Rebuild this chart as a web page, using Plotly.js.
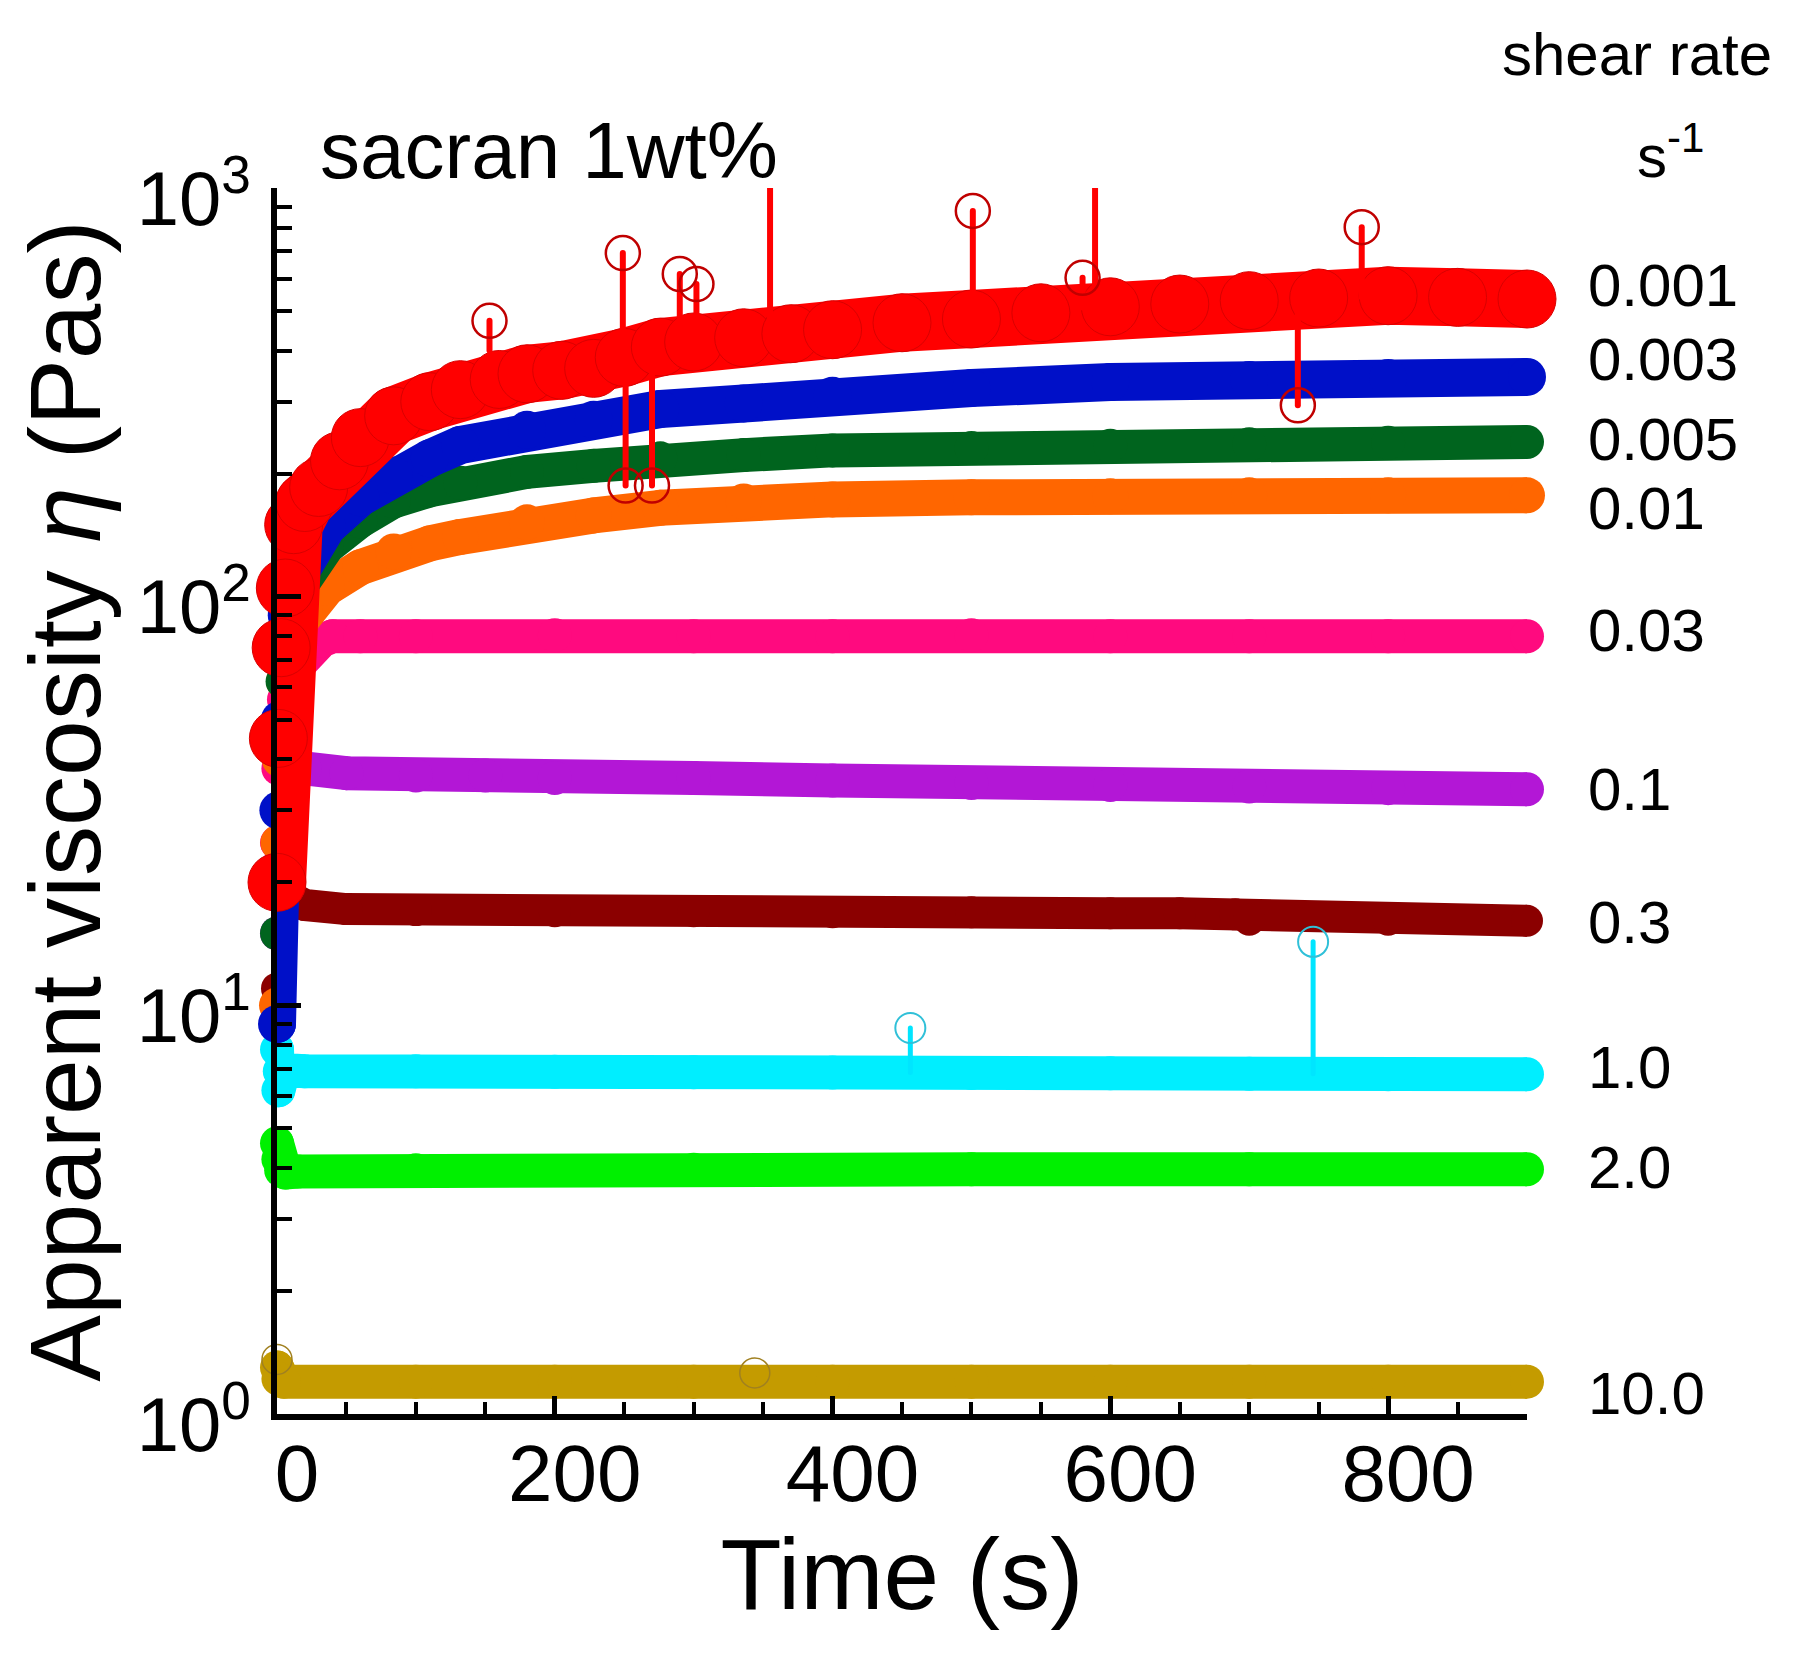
<!DOCTYPE html>
<html><head><meta charset="utf-8">
<script src="https://cdn.plot.ly/plotly-3.0.1.min.js"></script>
<style>html,body{margin:0;padding:0;background:#fff}</style>
</head><body><div id="chart" style="width:1809px;height:1664px"></div>
<script>
// ---- data (time in s, viscosity in Pa·s) ----
const rateLabels = ['0.001','0.003','0.005','0.01','0.03','0.1','0.3','1.0','2.0','10.0'];
const seriesColors = ['#ff0000','#0010c8','#00641e','#ff6600','#ff0a7f','#b317d6','#8b0000','#00eeff','#00f000','#c49b00'];

const t0001 = [0,1,3,6,12,20,30,45,60,84,110,132,160,180,205,228,250,276,300,336,370,400,450,500,550,600,650,700,750,800,850,900];
const v0001 = [20,45,75,105,150,170,185,215,245,277,300,321,340,351,358,362,385,408,420,430,440,450,468,478,495,512,520,530,538,545,540,535];

const t0003 = [0,1,2,4,7,12,20,36,60,84,110,132,180,228,276,336,400,500,600,700,800,900];
const v0003 = [9,30,50,70,90,108,125,148,175,198,218,235,256,271,288,297,310,324,335,339,343,345];

const t0005 = [0,1,2,4,7,12,20,36,60,84,110,132,180,228,276,336,400,500,600,700,800,900];
const v0005 = [15,30,45,62,82,100,113,132,153,171,182,190,202,209,218,222,228,231,234,236,238,239];

const t001 = [0,1,2,5,8,12,20,36,60,84,110,132,180,228,276,336,400,500,600,700,800,900];
const v001 = [10,25,40,62,73,83,92,105,118,129,135,140,152,158,165,171,173,175,176,177,177,177];

const t003 = [0,1,3,5,8,12,18,25,32,40,60,100,200,300,400,500,600,700,800,900];
const v003 = [25,38,50,56,61,66,71,75,78,80,80,80,80.5,80,80,80.5,80,80,80,80];

const t01 = [0,1,2,3,5,10,20,50,100,150,200,300,400,500,600,700,800,900];
const v01 = [15,22,30,38,40,39,38,37,36.5,36.5,36,36,35.5,35,34.6,34.3,34,33.8];

const t03 = [0,1,2,4,8,20,50,100,200,300,400,500,600,650,690,700,800,900];
const v03 = [11,15,19,19,18.5,17.6,17.2,17.1,17,17,16.9,16.9,16.8,16.8,16.7,16.2,16.2,16.1];

const t1 = [0,1,2,5,20,100,200,300,400,500,600,700,800,900];
const v1 = [7.8,6.2,6.9,6.95,6.9,6.9,6.88,6.86,6.85,6.83,6.82,6.8,6.78,6.78];

const t2 = [0,1,3,6,15,100,300,500,700,900];
const v2 = [4.6,4.2,3.95,3.9,3.92,3.95,3.96,3.97,3.97,3.97];

const t10 = [0,1,5,100,200,300,400,500,600,700,800,900];
const v10 = [1.3,1.22,1.2,1.2,1.2,1.2,1.2,1.2,1.2,1.2,1.2,1.2];

// spikes (time, band value, spike value)
const redSpikeT    = [153,249,251,270,290,302,355,501,580,589,735,781];
const redSpikeBase = [400,440,440,410,410,415,430,480,510,510,535,540];
const redSpikePeak = [473,693,187,187,616,582,1500,879,603,1500,294,802];
const cyanSpikeT    = [456,746];
const cyanSpikeBase = [6.85,6.8];
const cyanSpikePeak = [8.8,14.3];
const goldOutT = [0,344];
const goldOutV = [1.36,1.26];

const yTickVals = [1,10,100,1000];
const yTickText = ['10<sup>0</sup>','10<sup>1</sup>','10<sup>2</sup>','10<sup>3</sup>'];

// ---- build traces ----
const allT = [t0001,t0003,t0005,t001,t003,t01,t03,t1,t2,t10];
const allV = [v0001,v0003,v0005,v001,v003,v01,v03,v1,v2,v10];
const bandW = [58,38,34,36,34,34,32,34,34,34];

const traces = [];
for (let i = allT.length - 1; i >= 0; i--) {
  traces.push({
    x: allT[i], y: allV[i], type: 'scatter', mode: 'lines+markers',
    name: rateLabels[i], cliponaxis: false, hoverinfo: 'skip',
    line: {color: seriesColors[i], width: bandW[i]},
    marker: {color: seriesColors[i], size: bandW[i], symbol: 'circle',
             line: {color: i === 0 ? '#d80000' : seriesColors[i], width: i === 0 ? 1 : 0}}
  });
}
function spikeLines(ts, base, peak, color, w) {
  const x = [], y = [];
  ts.forEach((t, k) => { x.push(t, t, null); y.push(base[k], peak[k], null); });
  return {x, y, type: 'scatter', mode: 'lines', line: {color, width: w}, hoverinfo: 'skip', cliponaxis: true};
}
traces.push(spikeLines(redSpikeT, redSpikeBase, redSpikePeak, '#ff0000', 6));
traces.push({x: redSpikeT, y: redSpikePeak, type: 'scatter', mode: 'markers', cliponaxis: true, hoverinfo: 'skip',
  marker: {symbol: 'circle-open', size: 34, color: '#c00000', line: {width: 2.5}}});
traces.push(spikeLines(cyanSpikeT, cyanSpikeBase, cyanSpikePeak, '#00e5ff', 5));
traces.push({x: cyanSpikeT, y: cyanSpikePeak, type: 'scatter', mode: 'markers', cliponaxis: true, hoverinfo: 'skip',
  marker: {symbol: 'circle-open', size: 30, color: '#30c0d8', line: {width: 2}}});
traces.push({x: goldOutT, y: goldOutV, type: 'scatter', mode: 'markers', cliponaxis: false, hoverinfo: 'skip',
  marker: {symbol: 'circle-open', size: 30, color: '#a08020', line: {width: 1.5}}});

// ---- layout ----
const L = 277, R = 1527, T = 188, B = 1414;
const px = x => (x - L) / (R - L);
const py = y => (B - y) / (B - T);
const labelPix = [285,359,439,508,630,789,922,1067,1167,1393];
const minorY = [];
[1,10,100].forEach(d => { for (let m = 2; m <= 9; m++) minorY.push(m*d); });

const annotations = rateLabels.map((s, i) => ({
  text: s, xref: 'paper', yref: 'paper', x: px(1586), y: py(labelPix[i]),
  xanchor: 'left', yanchor: 'middle', showarrow: false, font: {size: 60, color: '#000'}
}));
annotations.push({text: 'sacran 1wt%', xref: 'paper', yref: 'paper', x: px(318), y: py(150),
  xanchor: 'left', yanchor: 'middle', showarrow: false, font: {size: 80, color: '#000'}});
annotations.push({text: 'shear rate', xref: 'paper', yref: 'paper', x: px(1637), y: py(54),
  xanchor: 'center', yanchor: 'middle', showarrow: false, font: {size: 60, color: '#000'}});
annotations.push({text: 's<sup>-1</sup>', xref: 'paper', yref: 'paper', x: px(1670), y: py(152),
  xanchor: 'center', yanchor: 'middle', showarrow: false, font: {size: 60, color: '#000'}});

const layout = {
  width: 1809, height: 1664,
  margin: {l: L, r: 1809 - R, t: T, b: 1664 - B, pad: 0},
  paper_bgcolor: '#fff', plot_bgcolor: '#fff',
  font: {family: 'Liberation Sans, Arial, sans-serif', color: '#000', size: 60},
  showlegend: false,
  xaxis: {
    range: [0, 900], showgrid: false, zeroline: false,
    showline: true, linecolor: '#000', linewidth: 6,
    tickmode: 'linear', tick0: 0, dtick: 200,
    ticks: 'inside', ticklen: 18, tickwidth: 5, tickcolor: '#000',
    minor: {tickmode: 'linear', tick0: 0, dtick: 50, ticks: 'inside', ticklen: 12, tickwidth: 4, tickcolor: '#000', showgrid: false},
    tickfont: {size: 80}, ticklabelstandoff: -15, ticklabelshift: 20,
    title: {text: 'Time (s)', font: {size: 100}, standoff: 15}
  },
  yaxis: {
    type: 'log', range: [0, 3], showgrid: false, zeroline: false,
    showline: true, linecolor: '#000', linewidth: 6,
    tickmode: 'array', tickvals: yTickVals, ticktext: yTickText,
    ticks: 'inside', ticklen: 24, tickwidth: 5, tickcolor: '#000',
    minor: {tickmode: 'array', tickvals: minorY, ticks: 'inside', ticklen: 15, tickwidth: 4, tickcolor: '#000', showgrid: false},
    tickfont: {size: 76}, ticklabelstandoff: 5, ticklabelshift: 10,
    title: {text: 'Apparent viscosity <i>η</i> (Pas)', font: {size: 100}, standoff: 5}
  },
  annotations
};

Plotly.newPlot('chart', traces, layout, {staticPlot: true}).then(() => {
  document.querySelectorAll('.scatterlayer path.js-line').forEach(p => {
    p.style.strokeLinejoin = 'round';
    p.style.strokeLinecap = 'round';
  });
});
</script></body></html>
